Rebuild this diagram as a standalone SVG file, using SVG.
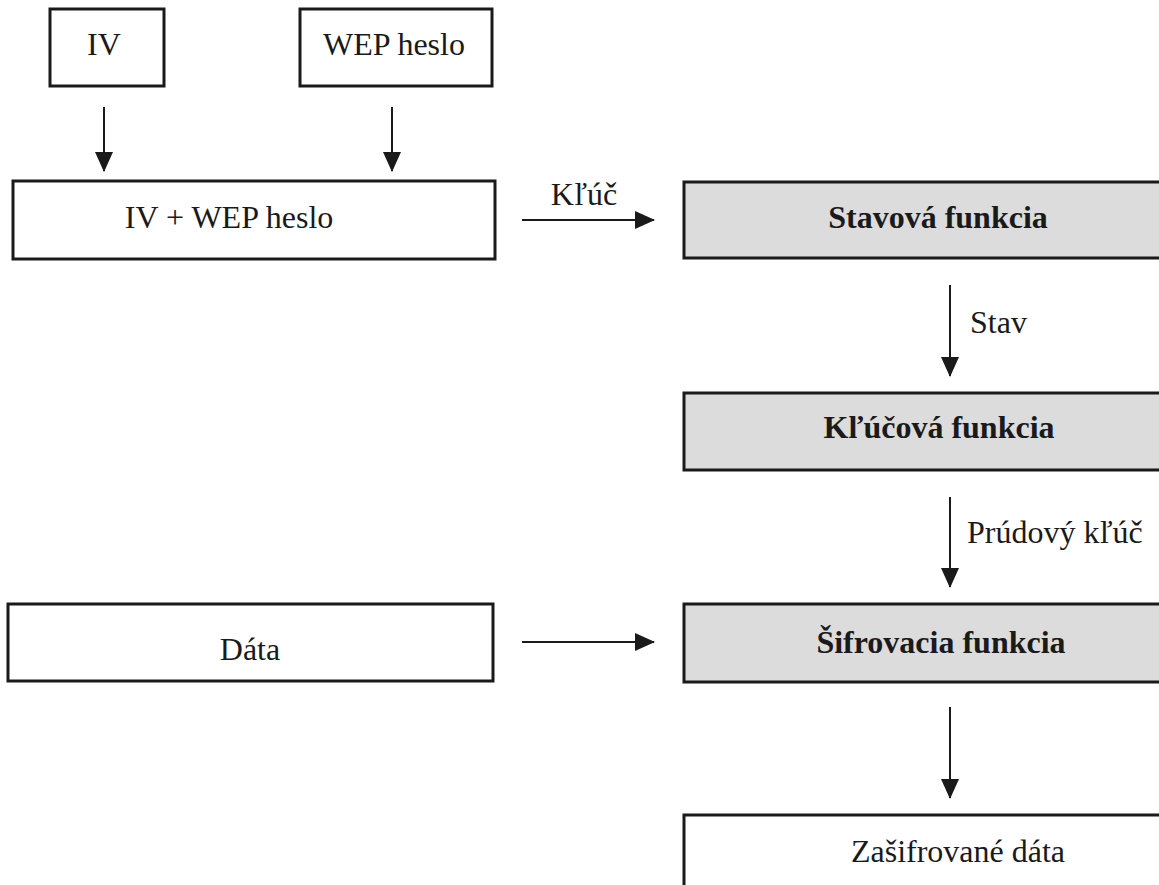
<svg xmlns="http://www.w3.org/2000/svg" width="1159" height="885" viewBox="0 0 1159 885">
  <style>
    .box { fill: #ffffff; stroke: #1a1a1a; stroke-width: 3; }
    .fn { fill: #dcdcdc; stroke: #1a1a1a; stroke-width: 3; }
    .lbl { font-family: "Liberation Serif", "Times New Roman", serif; font-size: 32px; fill: #1a1a1a; }
    .bold { font-weight: bold; }
    .edge { stroke: #1a1a1a; stroke-width: 2; fill: none; marker-end: url(#arrow); }
  </style>
  <defs>
    <marker id="arrow" viewBox="0 0 20 18" refX="19" refY="9" markerWidth="20" markerHeight="18" markerUnits="userSpaceOnUse" orient="auto">
      <path d="M0,0 L20,9 L0,18 Z" fill="#1a1a1a"/>
    </marker>
  </defs>
  <rect width="1159" height="885" fill="#ffffff"/>

  <g id="iv">
    <rect class="box" x="50" y="9" width="114" height="77"/>
    <text class="lbl" x="104" y="55" text-anchor="middle">IV</text>
  </g>
  <g id="wep-heslo">
    <rect class="box" x="300" y="9" width="192" height="77"/>
    <text class="lbl" x="394" y="55" text-anchor="middle">WEP heslo</text>
  </g>
  <g id="iv-wep">
    <rect class="box" x="13" y="181" width="482" height="78"/>
    <text class="lbl" x="229" y="228" text-anchor="middle">IV + WEP heslo</text>
  </g>
  <g id="stavova">
    <rect class="fn" x="684" y="182" width="510" height="76"/>
    <text class="lbl bold" x="938" y="228" text-anchor="middle">Stavová funkcia</text>
  </g>
  <g id="klucova">
    <rect class="fn" x="684" y="393" width="510" height="77"/>
    <text class="lbl bold" x="939" y="438" text-anchor="middle">Kľúčová funkcia</text>
  </g>
  <g id="data">
    <rect class="box" x="8" y="604" width="485" height="77"/>
    <text class="lbl" x="250" y="660" text-anchor="middle">Dáta</text>
  </g>
  <g id="sifrovacia">
    <rect class="fn" x="684" y="604" width="510" height="78"/>
    <text class="lbl bold" x="941" y="653" text-anchor="middle">Šifrovacia funkcia</text>
  </g>
  <g id="zasifrovane">
    <rect class="box" x="684" y="815" width="510" height="100"/>
    <text class="lbl" x="958" y="862" text-anchor="middle">Zašifrované dáta</text>
  </g>

  <g id="connectors">
    <line class="edge" x1="104" y1="107" x2="104" y2="171"/>
    <line class="edge" x1="392" y1="107" x2="392" y2="171"/>
    <line class="edge" x1="522" y1="220" x2="654" y2="220"/>
    <text class="lbl" x="584" y="205" text-anchor="middle">Kľúč</text>
    <line class="edge" x1="950" y1="285" x2="950" y2="376"/>
    <text class="lbl" x="970" y="333">Stav</text>
    <line class="edge" x1="950" y1="497" x2="950" y2="587"/>
    <text class="lbl" x="967" y="543">Prúdový kľúč</text>
    <line class="edge" x1="522" y1="642" x2="654" y2="642"/>
    <line class="edge" x1="950" y1="707" x2="950" y2="798"/>
  </g>
</svg>
